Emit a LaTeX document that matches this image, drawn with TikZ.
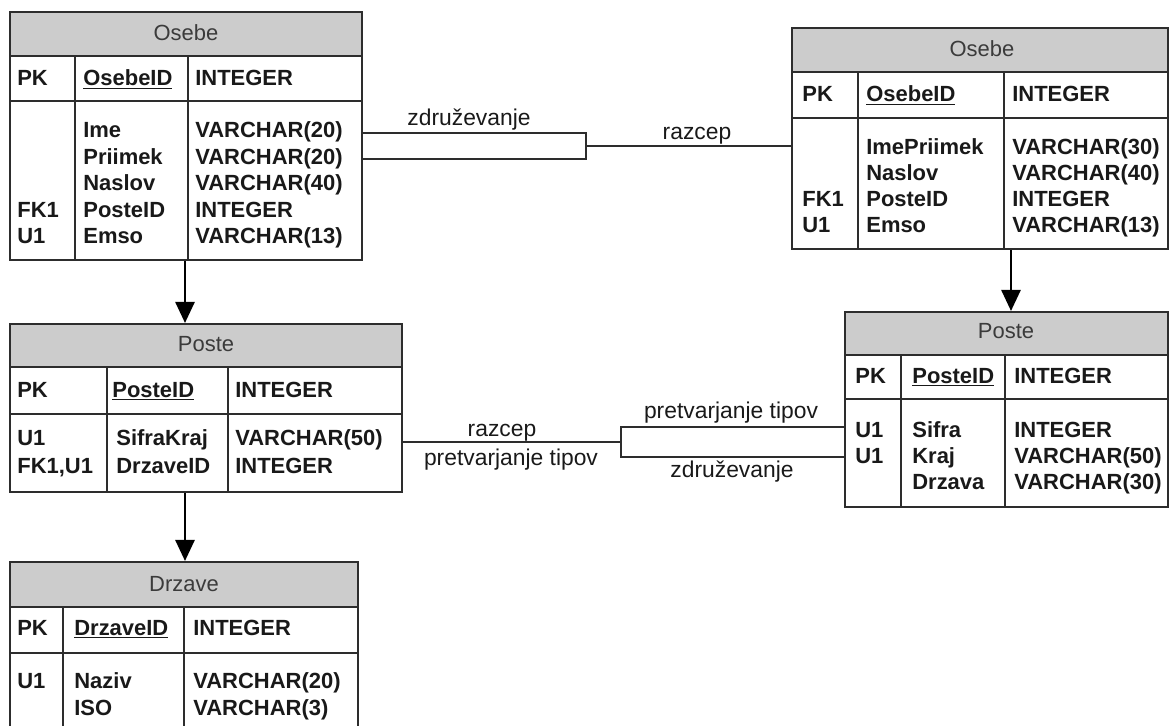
\documentclass[tikz,border=0pt]{standalone}
\usepackage{fontspec}
\setmainfont{Liberation Sans}
\usetikzlibrary{arrows.meta,fit}
\definecolor{hdrgray}{RGB}{204,204,204}
\definecolor{rule}{RGB}{45,45,45}
\definecolor{ink}{RGB}{25,25,25}
\tikzset{
  tblframe/.style={draw=rule, line width=1.2pt, inner sep=0pt, fit={#1}},
  sep/.style={draw=rule, line width=1.1pt},
  head/.style={anchor=base, inner sep=0pt, text=ink!85, font=\fontsize{12.5}{15}\selectfont},
  fld/.style={anchor=base west, inner sep=0pt, text=ink, font=\fontsize{12.5}{14}\selectfont\bfseries},
  lbl/.style={anchor=base, inner sep=0pt, text=ink, font=\fontsize{13}{15}\selectfont},
  link/.style={draw=rule, line width=0.9pt},
  fk/.style={draw=black, line width=1.1pt, -{Triangle[length=12pt,width=11pt]}}
}
\begin{document}
\begin{tikzpicture}[x=0.02cm, y=-0.02cm]
  \useasboundingbox (0,0) rectangle (1170,726);
  \clip (0,0) rectangle (1170,726);
  % Osebe (left)
  \fill[white] (10,12) rectangle (362,260);
  \fill[hdrgray] (10,12) rectangle (362,56);
  \draw[sep] (10,56) -- (362,56) (10,101) -- (362,101) (75,56) -- (75,260) (188,56) -- (188,260);
  \node[tblframe={(10,12)(362,260)}] (osebe1) {};
  \node[head] (osebe1-h) at (186,41) {Osebe};
  \node[fld] (osebe1-pk) at (17,86) {PK};
  \node[fld] (osebe1-id) at (83,86) {\underline{OsebeID}};
  \node[fld] (osebe1-ty) at (195,86) {INTEGER};
  \foreach \k/\n/\t [count=\i] in {{}/Ime/VARCHAR(20), {}/Priimek/VARCHAR(20), {}/Naslov/VARCHAR(40), FK1/PosteID/INTEGER, U1/Emso/VARCHAR(13)} {
    \node[fld] (osebe1-k\i) at (17,{138+26.5*(\i-1)}) {\k};
    \node[fld] (osebe1-n\i) at (83,{138+26.5*(\i-1)}) {\n};
    \node[fld] (osebe1-t\i) at (195,{138+26.5*(\i-1)}) {\t};
  }
  % Osebe (right)
  \fill[white] (792,28) rectangle (1168,249);
  \fill[hdrgray] (792,28) rectangle (1168,72);
  \draw[sep] (792,72) -- (1168,72) (792,118) -- (1168,118) (858,72) -- (858,249) (1004,72) -- (1004,249);
  \node[tblframe={(792,28)(1168,249)}] (osebe2) {};
  \node[head] (osebe2-h) at (982,57) {Osebe};
  \node[fld] (osebe2-pk) at (802,102) {PK};
  \node[fld] (osebe2-id) at (866,102) {\underline{OsebeID}};
  \node[fld] (osebe2-ty) at (1012,102) {INTEGER};
  \foreach \k/\n/\t [count=\i] in {{}/ImePriimek/VARCHAR(30), {}/Naslov/VARCHAR(40), FK1/PosteID/INTEGER, U1/Emso/VARCHAR(13)} {
    \node[fld] (osebe2-k\i) at (802,{155+26*(\i-1)}) {\k};
    \node[fld] (osebe2-n\i) at (866,{155+26*(\i-1)}) {\n};
    \node[fld] (osebe2-t\i) at (1012,{155+26*(\i-1)}) {\t};
  }
  % Poste (left)
  \fill[white] (10,324) rectangle (402,492);
  \fill[hdrgray] (10,324) rectangle (402,367);
  \draw[sep] (10,367) -- (402,367) (10,414) -- (402,414) (107,367) -- (107,492) (228,367) -- (228,492);
  \node[tblframe={(10,324)(402,492)}] (poste1) {};
  \node[head] (poste1-h) at (206,352) {Poste};
  \node[fld] (poste1-pk) at (17,397) {PK};
  \node[fld] (poste1-id) at (112,397) {\underline{PosteID}};
  \node[fld] (poste1-ty) at (235,397) {INTEGER};
  \foreach \k/\n/\t [count=\i] in {U1/SifraKraj/VARCHAR(50), {FK1,U1}/DrzaveID/INTEGER} {
    \node[fld] (poste1-k\i) at (17,{445+28*(\i-1)}) {\k};
    \node[fld] (poste1-n\i) at (116,{445+28*(\i-1)}) {\n};
    \node[fld] (poste1-t\i) at (235,{445+28*(\i-1)}) {\t};
  }
  % Poste (right)
  \fill[white] (845,312) rectangle (1168,507);
  \fill[hdrgray] (845,312) rectangle (1168,355);
  \draw[sep] (845,355) -- (1168,355) (845,399) -- (1168,399) (901,355) -- (901,507) (1005,355) -- (1005,507);
  \node[tblframe={(845,312)(1168,507)}] (poste2) {};
  \node[head] (poste2-h) at (1006,338) {Poste};
  \node[fld] (poste2-pk) at (855,383) {PK};
  \node[fld] (poste2-id) at (912,383) {\underline{PosteID}};
  \node[fld] (poste2-ty) at (1014,383) {INTEGER};
  \foreach \k/\n/\t [count=\i] in {U1/Sifra/INTEGER, U1/Kraj/VARCHAR(50), {}/Drzava/VARCHAR(30)} {
    \node[fld] (poste2-k\i) at (855,{437+26*(\i-1)}) {\k};
    \node[fld] (poste2-n\i) at (912,{437+26*(\i-1)}) {\n};
    \node[fld] (poste2-t\i) at (1014,{437+26*(\i-1)}) {\t};
  }
  % Drzave
  \fill[white] (10,562) rectangle (358,745);
  \fill[hdrgray] (10,562) rectangle (358,607);
  \draw[sep] (10,607) -- (358,607) (10,653) -- (358,653) (63,607) -- (63,745) (184,607) -- (184,745);
  \node[tblframe={(10,562)(358,745)}] (drzave) {};
  \node[head] (drzave-h) at (184,591) {Drzave};
  \node[fld] (drzave-pk) at (17,635) {PK};
  \node[fld] (drzave-id) at (74,635) {\underline{DrzaveID}};
  \node[fld] (drzave-ty) at (193,635) {INTEGER};
  \foreach \k/\n/\t [count=\i] in {U1/Naziv/VARCHAR(20), {}/ISO/VARCHAR(3)} {
    \node[fld] (drzave-k\i) at (17,{688+27*(\i-1)}) {\k};
    \node[fld] (drzave-n\i) at (74,{688+27*(\i-1)}) {\n};
    \node[fld] (drzave-t\i) at (193,{688+27*(\i-1)}) {\t};
  }
  % foreign keys
  \coordinate (fkl) at (185,300);
  \coordinate (fkr) at (1011,300);
  \draw[fk] (osebe1.south -| fkl) -- (poste1.north -| fkl);
  \draw[fk] (osebe2.south -| fkr) -- (poste2.north -| fkr);
  \draw[fk] (poste1.south -| fkl) -- (drzave.north -| fkl);
  % transformations
  \coordinate (zu) at (586,133);
  \coordinate (zd) at (586,159);
  \coordinate (zm) at (586,146);
  \draw[link] (osebe1.east |- zu) -- (zu) -- (zd) -- (osebe1.east |- zd);
  \draw[link] (zm) -- (zm -| osebe2.west);
  \node[lbl] (zdr1) at (469,126) {združevanje};
  \node[lbl] (raz1) at (697,140) {razcep};
  \coordinate (pu) at (621,427);
  \coordinate (pd) at (621,457);
  \coordinate (pm) at (621,442);
  \draw[link] (poste1.east |- pm) -- (pm);
  \draw[link] (poste2.west |- pu) -- (pu) -- (pd) -- (poste2.west |- pd);
  \node[lbl] (raz2) at (502,436) {razcep};
  \node[lbl] (tip1) at (511,465) {pretvarjanje tipov};
  \node[lbl] (tip2) at (731,418) {pretvarjanje tipov};
  \node[lbl] (zdr2) at (732,477) {združevanje};
\end{tikzpicture}
\end{document}
